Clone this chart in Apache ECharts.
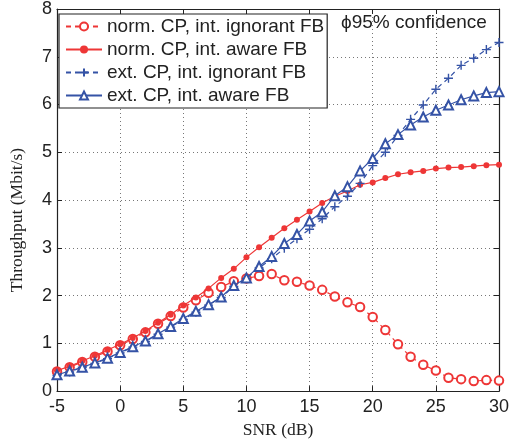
<!DOCTYPE html>
<html>
<head>
<meta charset="utf-8">
<script src="https://cdn.jsdelivr.net/npm/echarts@6/dist/echarts.min.js"></script>
<style>
  html, body { margin: 0; padding: 0; background: #fff; }
  #main { width: 522px; height: 444px; }
</style>
</head>
<body>
<div id="main"></div>
<script>
// SNR values (dB)
var snr = [-5, -4, -3, -2, -1, 0, 1, 2, 3, 4, 5, 6, 7, 8, 9, 10, 11, 12, 13, 14,
           15, 16, 17, 18, 19, 20, 21, 22, 23, 24, 25, 26, 27, 28, 29, 30];

var normIgnorant = [0.41, 0.50, 0.61, 0.72, 0.83, 0.96, 1.09, 1.23, 1.41, 1.57, 1.75, 1.90, 2.06, 2.18, 2.30, 2.36, 2.41, 2.45,
                    2.32, 2.29, 2.21, 2.12, 1.98, 1.86, 1.76, 1.55, 1.28, 0.98, 0.72, 0.55, 0.43, 0.28, 0.25, 0.21, 0.23, 0.22];
var normAware = [0.43, 0.52, 0.63, 0.74, 0.86, 0.98, 1.11, 1.26, 1.43, 1.60, 1.79, 1.96, 2.15, 2.37, 2.56, 2.80, 3.01, 3.21,
                 3.41, 3.59, 3.76, 3.94, 4.08, 4.19, 4.32, 4.37, 4.46, 4.54, 4.58, 4.61, 4.66, 4.68, 4.69, 4.71, 4.73, 4.74];
var extIgnorant = [0.33, 0.40, 0.50, 0.58, 0.68, 0.80, 0.92, 1.04, 1.19, 1.34, 1.50, 1.65, 1.80, 1.96, 2.19, 2.36, 2.58, 2.77,
                   2.99, 3.19, 3.39, 3.61, 3.86, 4.08, 4.35, 4.72, 5.00, 5.35, 5.69, 5.99, 6.32, 6.55, 6.82, 6.97, 7.15, 7.30];
var extAware = [0.34, 0.42, 0.50, 0.59, 0.69, 0.81, 0.93, 1.05, 1.20, 1.35, 1.52, 1.67, 1.81, 1.97, 2.21, 2.37, 2.61, 2.82,
                3.09, 3.28, 3.56, 3.75, 4.09, 4.28, 4.61, 4.87, 5.18, 5.37, 5.57, 5.74, 5.88, 5.99, 6.10, 6.18, 6.25, 6.27];

var seriesNames = ['norm. CP, int. ignorant FB', 'norm. CP, int. aware FB',
                   'ext. CP, int. ignorant FB', 'ext. CP, int. aware FB'];

var red = '#ee3636';
var blue = '#3553a6';

function pairs(ys) {
    return snr.map(function(x, i) { return [x, ys[i]]; });
}

var chart = echarts.init(document.getElementById('main'));

var axisLine = { show: true, onZero: false, lineStyle: { color: '#222', width: 1.2 } };
var gridLine = { show: true, lineStyle: { color: '#777', type: [1, 3], width: 1 } };
var tickFont = { color: '#222', fontSize: 18, fontFamily: 'Liberation Sans' };

option = {
    backgroundColor: '#fff',
    animation: false,
    grid: { left: 54, right: 23, top: 6, bottom: 48 },
    legend: {
        orient: 'vertical',
        left: 59,
        top: 14,
        padding: [3, 3, 3, 6],
        itemGap: 4,
        itemWidth: 36,
        itemHeight: 10,
        backgroundColor: '#fff',
        borderColor: '#222',
        borderWidth: 1.2,
        textStyle: { color: '#222', fontSize: 19, fontFamily: 'Liberation Sans' },
        data: seriesNames
    },
    graphic: [{
        type: 'text',
        left: 341,
        top: 13,
        style: { text: '\u03d595% confidence', fill: '#222', fontSize: 19, fontFamily: 'Liberation Sans' }
    }],
    xAxis: [{
        type: 'value',
        min: -5, max: 30, interval: 5,
        name: 'SNR (dB)',
        nameLocation: 'middle',
        nameGap: 25,
        nameTextStyle: { color: '#222', fontSize: 17.5, fontFamily: 'Liberation Serif' },
        axisLine: axisLine,
        axisTick: { inside: true, length: 5, lineStyle: { color: '#222' } },
        axisLabel: Object.assign({ margin: 7 }, tickFont),
        splitLine: gridLine
    }, {
        type: 'value',
        position: 'top',
        min: -5, max: 30, interval: 5,
        axisLine: axisLine,
        axisTick: { inside: true, length: 5, lineStyle: { color: '#222' } },
        axisLabel: { show: false },
        splitLine: { show: false }
    }],
    yAxis: [{
        type: 'value',
        min: 0, max: 8, interval: 1,
        name: 'Throughput (Mbit/s)',
        nameLocation: 'middle',
        nameGap: 31,
        nameTextStyle: { color: '#222', fontSize: 17.5, fontFamily: 'Liberation Serif', padding: [0, 40, 0, 0] },
        axisLine: axisLine,
        axisTick: { inside: true, length: 5, lineStyle: { color: '#222' } },
        axisLabel: Object.assign({ margin: 5 }, tickFont),
        splitLine: gridLine
    }, {
        type: 'value',
        position: 'right',
        min: 0, max: 8, interval: 1,
        axisLine: axisLine,
        axisTick: { inside: true, length: 5, lineStyle: { color: '#222' } },
        axisLabel: { show: false },
        splitLine: { show: false }
    }],
    series: [
        {
            name: seriesNames[0],
            type: 'line',
            data: pairs(normIgnorant),
            symbol: 'emptyCircle',
            symbolSize: 8.5,
            showAllSymbol: true,
            lineStyle: { color: red, width: 1.2, type: [5, 4] },
            itemStyle: { color: red, borderColor: red, borderWidth: 1.2 },
            z: 3
        },
        {
            name: seriesNames[1],
            type: 'line',
            data: pairs(normAware),
            symbol: 'circle',
            symbolSize: 6,
            showAllSymbol: true,
            lineStyle: { color: red, width: 1.2 },
            itemStyle: { color: red },
            z: 4
        },
        {
            name: seriesNames[2],
            type: 'line',
            data: pairs(extIgnorant),
            symbol: 'path://M5,0L5,10M0,5L10,5',
            symbolSize: 9,
            showAllSymbol: true,
            lineStyle: { color: blue, width: 1.2, type: [5, 4] },
            itemStyle: { color: 'rgba(0,0,0,0)', borderColor: blue, borderWidth: 1.4 },
            z: 5
        },
        {
            name: seriesNames[3],
            type: 'line',
            data: pairs(extAware),
            symbol: 'emptyTriangle',
            symbolSize: 9,
            showAllSymbol: true,
            lineStyle: { color: blue, width: 1.2 },
            itemStyle: { color: blue, borderColor: blue, borderWidth: 1.2 },
            z: 6
        }
    ]
};

chart.setOption(option);
</script>
</body>
</html>
